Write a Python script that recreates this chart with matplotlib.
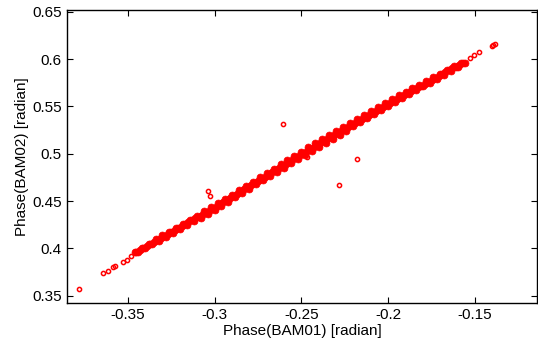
import matplotlib
matplotlib.use("Agg")
import matplotlib.pyplot as plt

# dense band, upper edge of the point cloud
band_upper_x = [-0.346, -0.342, -0.338, -0.334, -0.330, -0.326, -0.322, -0.318, -0.314, -0.310,
                -0.306, -0.302, -0.298, -0.294, -0.290, -0.286, -0.282, -0.278, -0.274, -0.270,
                -0.266, -0.262, -0.258, -0.254, -0.250, -0.246, -0.242, -0.238, -0.234, -0.230,
                -0.226, -0.222, -0.218, -0.214, -0.210, -0.206, -0.202, -0.198, -0.194, -0.190,
                -0.186, -0.182, -0.178, -0.174, -0.170, -0.166, -0.162, -0.158]
band_upper_y = [0.3964, 0.4005, 0.4047, 0.4094, 0.4136, 0.4178, 0.4219, 0.4261, 0.4302, 0.4344,
                0.4393, 0.4434, 0.4478, 0.4523, 0.4568, 0.4613, 0.4658, 0.4704, 0.4749, 0.4797,
                0.4842, 0.4887, 0.4933, 0.4978, 0.5023, 0.5066, 0.5109, 0.5151, 0.5194, 0.5237,
                0.5280, 0.5323, 0.5366, 0.5409, 0.5452, 0.5494, 0.5537, 0.5575, 0.5615, 0.5655,
                0.5690, 0.5730, 0.5770, 0.5810, 0.5845, 0.5882, 0.5922, 0.5962]

# dense band, lower edge of the point cloud
band_lower_x = [-0.344, -0.340, -0.336, -0.332, -0.328, -0.324, -0.320, -0.316, -0.312, -0.308,
                -0.304, -0.300, -0.296, -0.292, -0.288, -0.284, -0.280, -0.276, -0.272, -0.268,
                -0.264, -0.260, -0.256, -0.252, -0.248, -0.244, -0.240, -0.236, -0.232, -0.228,
                -0.224, -0.220, -0.216, -0.212, -0.208, -0.204, -0.200, -0.196, -0.192, -0.188,
                -0.184, -0.180, -0.176, -0.172, -0.168, -0.164, -0.160, -0.156]
band_lower_y = [0.3960, 0.4002, 0.4044, 0.4079, 0.4121, 0.4162, 0.4204, 0.4246, 0.4287, 0.4322,
                0.4363, 0.4405, 0.4450, 0.4495, 0.4541, 0.4586, 0.4631, 0.4676, 0.4721, 0.4764,
                0.4809, 0.4854, 0.4899, 0.4944, 0.4988, 0.5031, 0.5074, 0.5117, 0.5160, 0.5202,
                0.5245, 0.5288, 0.5331, 0.5374, 0.5417, 0.5460, 0.5502, 0.5545, 0.5585, 0.5630,
                0.5670, 0.5710, 0.5750, 0.5790, 0.5835, 0.5878, 0.5918, 0.5958]

# dense band, middle of the point cloud
band_mid_x = [-0.345, -0.343, -0.341, -0.339, -0.337, -0.335, -0.333, -0.331, -0.329, -0.327,
              -0.325, -0.323, -0.321, -0.319, -0.317, -0.315, -0.313, -0.311, -0.309, -0.307,
              -0.305, -0.303, -0.301, -0.299, -0.297, -0.295, -0.293, -0.291, -0.289, -0.287,
              -0.285, -0.283, -0.281, -0.279, -0.277, -0.275, -0.273, -0.271, -0.269, -0.267,
              -0.265, -0.263, -0.261, -0.259, -0.257, -0.255, -0.253, -0.251, -0.249, -0.247,
              -0.245, -0.243, -0.241, -0.239, -0.237, -0.235, -0.233, -0.231, -0.229, -0.227,
              -0.225, -0.223, -0.221, -0.219, -0.217, -0.215, -0.213, -0.211, -0.209, -0.207,
              -0.205, -0.203, -0.201, -0.199, -0.197, -0.195, -0.193, -0.191, -0.189, -0.187,
              -0.185, -0.183, -0.181, -0.179, -0.177, -0.175, -0.173, -0.171, -0.169, -0.167,
              -0.165, -0.163, -0.161, -0.159, -0.157]
band_mid_y = [0.3962, 0.3983, 0.4004, 0.4024, 0.4045, 0.4066, 0.4087, 0.4108, 0.4128, 0.4149,
              0.4170, 0.4191, 0.4212, 0.4232, 0.4253, 0.4274, 0.4295, 0.4316, 0.4336, 0.4357,
              0.4378, 0.4399, 0.4420, 0.4441, 0.4464, 0.4487, 0.4509, 0.4532, 0.4554, 0.4577,
              0.4600, 0.4622, 0.4645, 0.4667, 0.4690, 0.4713, 0.4735, 0.4758, 0.4780, 0.4803,
              0.4826, 0.4848, 0.4871, 0.4893, 0.4916, 0.4939, 0.4961, 0.4984, 0.5006, 0.5027,
              0.5049, 0.5070, 0.5091, 0.5113, 0.5134, 0.5156, 0.5177, 0.5198, 0.5220, 0.5241,
              0.5263, 0.5284, 0.5305, 0.5327, 0.5348, 0.5370, 0.5391, 0.5412, 0.5434, 0.5455,
              0.5477, 0.5498, 0.5519, 0.5540, 0.5560, 0.5580, 0.5600, 0.5620, 0.5640, 0.5660,
              0.5680, 0.5700, 0.5720, 0.5740, 0.5760, 0.5780, 0.5800, 0.5820, 0.5840, 0.5860,
              0.5880, 0.5900, 0.5920, 0.5940, 0.5960]

# isolated points at the ends of the band and the outliers
sparse_x = [-0.3781, -0.3641, -0.3615, -0.3586, -0.3571, -0.3529, -0.3506, -0.3483,
            -0.1384, -0.1395, -0.1403, -0.1476, -0.1503, -0.1530,
            -0.2604, -0.3039, -0.3024, -0.2281, -0.2179, -0.2467]
sparse_y = [0.3568, 0.3736, 0.3757, 0.3800, 0.3810, 0.3856, 0.3877, 0.3919,
            0.6163, 0.6150, 0.6138, 0.6071, 0.6043, 0.6010,
            0.5315, 0.4608, 0.4549, 0.4665, 0.4939, 0.4967]

x_ticks = [-0.35, -0.3, -0.25, -0.2, -0.15]
y_ticks = [0.35, 0.4, 0.45, 0.5, 0.55, 0.6, 0.65]

plt.rcParams["font.family"] = ["Liberation Sans", "DejaVu Sans"]
plt.rcParams["axes.unicode_minus"] = False

fig = plt.figure(figsize=(5.38, 3.44), dpi=100)
ax = fig.add_axes([0.1251, 0.120, 0.8736, 0.851])

for bx, by in [(band_upper_x, band_upper_y), (band_lower_x, band_lower_y), (band_mid_x, band_mid_y)]:
    ax.plot(bx, by, "o", color="red", markersize=5.0, markeredgewidth=0.5)
ax.plot(sparse_x, sparse_y, "o", color="red", markerfacecolor="none",
        markersize=3.0, markeredgewidth=1.1)

ax.set_xlim(-0.3848, -0.1141)
ax.set_ylim(0.3426, 0.6518)
ax.set_xticks(x_ticks)
ax.set_xticklabels([f"{t:g}" for t in x_ticks])
ax.set_yticks(y_ticks)
ax.set_yticklabels([f"{t:g}" for t in y_ticks])
ax.tick_params(direction="in", length=4, width=0.8, labelsize=11,
               top=True, right=True, pad=4)
for s in ax.spines.values():
    s.set_linewidth(1.0)

ax.set_xlabel("Phase(BAM01) [radian]", fontsize=11, labelpad=1)
ax.set_ylabel("Phase(BAM02) [radian]", fontsize=11, labelpad=2)

fig.savefig("out.png", dpi=100)
